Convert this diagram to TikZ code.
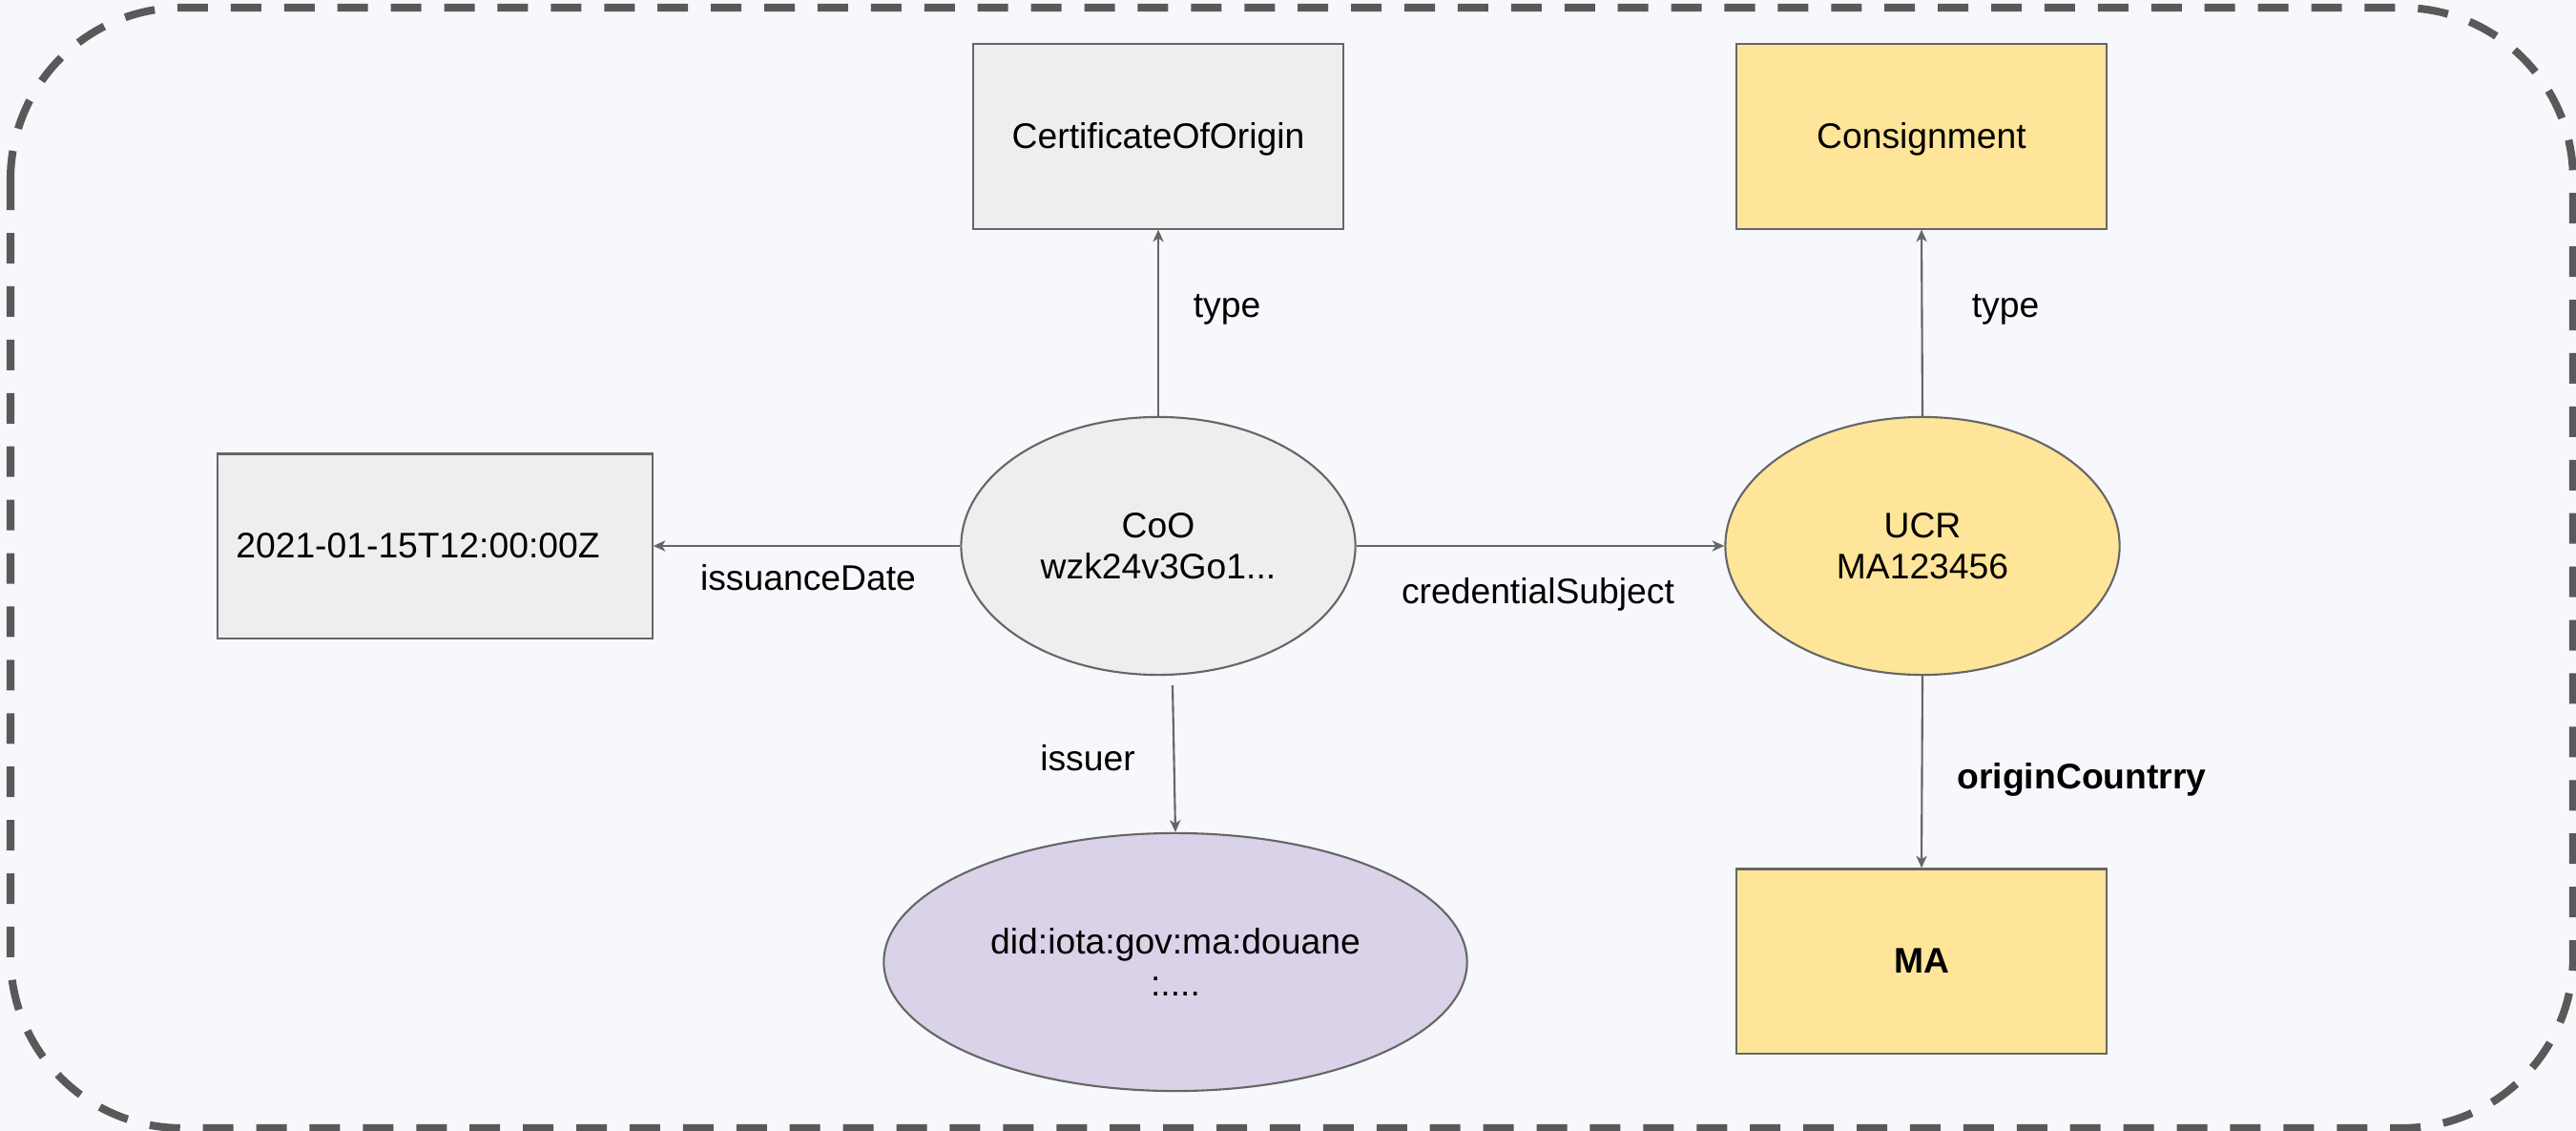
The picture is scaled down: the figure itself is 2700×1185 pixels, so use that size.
\documentclass[tikz,border=0pt]{standalone}
\usepackage{fontspec}
\setmainfont{Liberation Sans}
\usetikzlibrary{shapes.geometric,arrows.meta}
\definecolor{pagebg}{HTML}{F6F8FB}
\definecolor{frame}{HTML}{595959}
\definecolor{edge}{HTML}{666666}
\definecolor{greyfill}{HTML}{EEEEEE}
\definecolor{yellowfill}{HTML}{FFE599}
\definecolor{purplefill}{HTML}{D9D2E9}
\tikzset{
  every node/.style={font=\fontsize{10.6}{12.4}\selectfont, text=black},
  oneline/.style={text height=0.716em, text depth=0pt},
  box/.style={draw=edge, line width=0.6pt, rectangle, inner sep=0pt, oneline,
              minimum width=3.87cm, minimum height=1.93cm},
  datebox/.style={box, minimum width=4.55cm, minimum height=1.93cm},
  oval/.style={draw=edge, line width=0.6pt, ellipse, inner sep=0pt, align=center,
               minimum width=4.13cm, minimum height=2.70cm},
  bigoval/.style={oval, minimum width=6.11cm, minimum height=2.70cm},
  link/.style={draw=edge, line width=0.6pt, -{Stealth[length=3.6pt, width=3.2pt, inset=1pt]}},
  lbl/.style={inner sep=0pt, oneline},
}
\begin{document}
\begin{tikzpicture}[x=0.01cm, y=-0.01cm]
  \useasboundingbox (0,0) rectangle (2700,1185);
  \fill[pagebg] (0,0) rectangle (2700,1185);
  % dashed rounded frame around the graph
  \draw[frame, line width=2.3pt, dash pattern=on 9.1pt off 6.8pt, rounded corners=1.8cm]
    (11,8) rectangle (2697,1182);

  % nodes
  \node[box, fill=greyfill] (cert) at (1214,143) {CertificateOfOrigin};
  \node[box, fill=yellowfill] (cons) at (2014,143) {Consignment};
  % the date sits a little left of the box centre
  \node[datebox, fill=greyfill] (date) at (456,572) {\hspace*{-0.36cm}2021-01-15T12:00:00Z};
  \node[oval, fill=greyfill] (coo) at (1214,572) {CoO\\wzk24v3Go1...};
  \node[oval, fill=yellowfill] (ucr) at (2015,572) {UCR\\MA123456};
  \node[bigoval, fill=purplefill] (did) at (1232,1008) {did:iota:gov:ma:douane\\:....};
  \node[box, fill=yellowfill, font=\fontsize{10.6}{12.4}\selectfont\bfseries] (ma) at (2014,1007) {MA};
  \coordinate (issrc) at (1229,718);

  % connectors
  \draw[link] (coo.west) -- (date.east);
  \draw[link] (coo.north) -- (cert.south);
  \draw[link] (ucr.north) -- (cons.south);
  \draw[link] (coo.east) -- (ucr.west);
  \draw[link] (issrc) -- (did.north);
  \draw[link] (ucr.south) -- (ma.north);

  % edge labels
  \node[lbl] (l1) at (1286,320) {type};
  \node[lbl] (l2) at (2102,320) {type};
  \node[lbl] (l3) at (847,606) {issuanceDate};
  \node[lbl] (l4) at (1612,620) {credentialSubject};
  \node[lbl] (l5) at (1140,795) {issuer};
  \node[lbl, font=\fontsize{10.6}{12.4}\selectfont\bfseries] (l6) at (2182,814) {originCountrry};
\end{tikzpicture}
\end{document}
